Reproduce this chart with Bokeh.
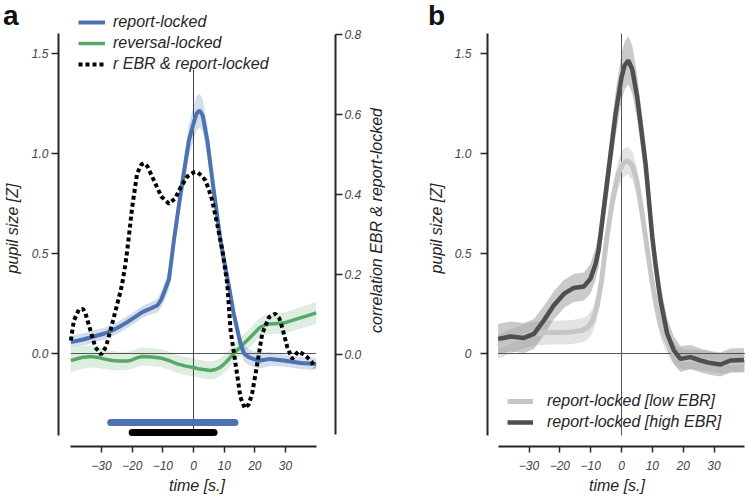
import math
from bokeh.plotting import figure
from bokeh.layouts import row
from bokeh.models import Range1d, LinearAxis, FixedTicker, Legend, LegendItem, Div
from bokeh.embed import file_html
from bokeh.resources import INLINE

# ---------------- data: panel a ----------------
report_t = [-40, -36, -32.5, -29, -26.5, -24, -21.6, -19, -16.7, -14, -11.8, -10.5, -9.5, -8,
            -6.4, -4.2, -1.5, 0, 1, 2, 3, 4.5, 6.6, 8.8, 11.5, 13.1, 15.3, 16.5, 18, 20,
            21.8, 25, 29.4, 34.9, 40]
report_v = [0.057, 0.07, 0.085, 0.10, 0.115, 0.135, 0.157, 0.183, 0.207, 0.225, 0.24, 0.27, 0.31, 0.37,
            0.565, 0.80, 1.065, 1.15, 1.2, 1.215, 1.19, 1.065, 0.815, 0.565, 0.34, 0.2, 0.05, 0.0, -0.018, -0.03,
            -0.035, -0.027, -0.035, -0.048, -0.052]
report_err = [0.03, 0.03, 0.03, 0.03, 0.03, 0.03, 0.03, 0.03, 0.03, 0.03, 0.035, 0.04, 0.045, 0.05,
              0.06, 0.07, 0.08, 0.085, 0.085, 0.085, 0.08, 0.08, 0.07, 0.06, 0.05, 0.045, 0.04, 0.04, 0.04, 0.04,
              0.04, 0.035, 0.03, 0.03, 0.03]

reversal_t = [-40, -36.5, -33.6, -31, -29.2, -26.5, -24.3, -22, -20.5, -18.5, -16.7, -13.5, -10.8, -8,
              -5.3, -2.5, 0, 2, 5.5, 7.2, 8.8, 10.5, 12.1, 15.3, 18.6, 21.8, 23.5, 25.1, 29.4, 33.8, 37, 40]
reversal_v = [-0.035, -0.02, -0.015, -0.02, -0.027, -0.035, -0.038, -0.037, -0.035, -0.022, -0.015, -0.018,
              -0.022, -0.035, -0.052, -0.063, -0.07, -0.078, -0.085, -0.08, -0.068, -0.045, -0.018, 0.032,
              0.082, 0.132, 0.143, 0.148, 0.152, 0.173, 0.188, 0.203]
reversal_err = [0.06, 0.058, 0.055, 0.052, 0.05, 0.048, 0.047, 0.046, 0.045, 0.045, 0.045, 0.045,
                0.045, 0.045, 0.045, 0.045, 0.045, 0.045, 0.045, 0.045, 0.045, 0.045, 0.045, 0.046,
                0.047, 0.048, 0.05, 0.05, 0.052, 0.053, 0.054, 0.055]

corr_t = [-40, -39, -37.4, -36, -35.2, -33.6, -32, -30.1, -28.5, -27.1, -25.4, -24, -23.3, -22.2,
          -21.3, -20, -18.4, -17, -16.2, -15, -12.9, -10.5, -8, -6, -4.2, -2, 0, 1.2, 2.5, 3.9,
          5, 6.1, 7.7, 9.4, 11, 12.1, 13.7, 15.3, 16.7, 18, 19.1, 20.8, 22.4, 24.6, 26.7, 28,
          28.9, 30.6, 32.2, 33.3, 34.3, 35.5, 37.1, 38.5, 39.5]
corr_r = [0.035, 0.085, 0.112, 0.114, 0.102, 0.06, 0.018, 0.0, 0.02, 0.06, 0.11, 0.152, 0.175, 0.225,
          0.28, 0.368, 0.452, 0.475, 0.478, 0.47, 0.435, 0.395, 0.377, 0.39, 0.418, 0.445, 0.455, 0.456,
          0.448, 0.435, 0.412, 0.385, 0.327, 0.26, 0.177, 0.06, -0.023, -0.107, -0.134, -0.125, -0.098,
          -0.023, 0.052, 0.093, 0.102, 0.09, 0.068, 0.018, -0.011, 0.0, 0.008, 0.002, -0.007, -0.018, -0.033]

sig_report = [-27, 13.5]
sig_corr = [-20, 6.7]

# ---------------- data: panel b ----------------
high_t = [-40, -36, -31.7, -28.4, -25.2, -22, -18.7, -15.5, -12.2, -10.1, -8.4, -7.4, -4.6, -1.9,
          0, 1, 2.2, 3.5, 5.1, 7.8, 10, 11, 12.6, 14.8, 17, 19.1, 22.4, 25.6, 28.9, 32.1, 35.4, 39.7]
high_v = [0.073, 0.085, 0.078, 0.098, 0.165, 0.24, 0.298, 0.328, 0.335, 0.373, 0.448, 0.52, 0.865, 1.2,
          1.38, 1.44, 1.465, 1.42, 1.28, 0.95, 0.58, 0.45, 0.27, 0.1, 0.015, -0.027, -0.018, -0.035,
          -0.048, -0.055, -0.035, -0.032]
high_err = [0.075, 0.075, 0.075, 0.075, 0.072, 0.07, 0.07, 0.07, 0.07, 0.075, 0.08, 0.085, 0.1, 0.11,
            0.12, 0.12, 0.12, 0.12, 0.11, 0.1, 0.09, 0.085, 0.08, 0.075, 0.07, 0.065, 0.06, 0.06,
            0.06, 0.06, 0.06, 0.06]

low_t = [-40, -36, -32, -28, -24, -20, -16, -13, -11, -9.5, -8, -6.5, -5, -3, -1, 0.5, 2, 3.5, 5,
         6.5, 8, 9.5, 11, 12.5, 14, 16, 18, 20, 24, 28, 32, 36, 40]
low_v = [0.035, 0.06, 0.085, 0.1, 0.105, 0.105, 0.108, 0.115, 0.13, 0.16, 0.23, 0.36, 0.55, 0.76, 0.9,
         0.95, 0.965, 0.94, 0.86, 0.72, 0.56, 0.4, 0.26, 0.15, 0.08, 0.02, -0.015, -0.03, -0.03, -0.04,
         -0.05, -0.045, -0.045]
low_err = [0.06, 0.06, 0.06, 0.06, 0.06, 0.06, 0.06, 0.06, 0.06, 0.06, 0.062, 0.065, 0.068, 0.07, 0.07,
           0.07, 0.07, 0.07, 0.07, 0.068, 0.065, 0.062, 0.06, 0.058, 0.055, 0.055, 0.05, 0.05, 0.05, 0.05,
           0.05, 0.05, 0.05]

xticks = [-30, -20, -10, 0, 10, 20, 30]
xtick_labels = ["\u221230", "\u221220", "\u221210", "0", "10", "20", "30"]
yticks = [0, 0.5, 1, 1.5]
ytick_labels_a = ["0.0", "0.5", "1.0", "1.5"]
ytick_labels_b = ["0", "0.5", "1.0", "1.5"]
rticks = [0.0, 0.2, 0.4, 0.6, 0.8]
rtick_labels = ["0.0", "0.2", "0.4", "0.6", "0.8"]

FONT = "Liberation Sans"
TXT = "#262626"
BLUE = "#4c72b0"
GREEN = "#55a868"


def style_axis(ax, ticks, labels, bounds, tick_out, label_standoff, axis_standoff):
    ax.ticker = FixedTicker(ticks=ticks)
    ax.major_label_overrides = dict(zip(ticks, labels))
    ax.bounds = bounds
    ax.axis_line_color = TXT
    ax.axis_line_width = 2
    ax.major_tick_line_color = TXT
    ax.major_tick_line_width = 1.5
    ax.major_tick_out = tick_out
    ax.major_tick_in = 0
    ax.minor_tick_line_color = None
    ax.major_label_standoff = label_standoff
    ax.axis_label_standoff = axis_standoff
    ax.major_label_text_font = FONT
    ax.major_label_text_font_style = "italic"
    ax.major_label_text_font_size = "12px"
    ax.major_label_text_color = "#444444"
    ax.axis_label_text_font = FONT
    ax.axis_label_text_font_style = "italic"
    ax.axis_label_text_font_size = "16px"
    ax.axis_label_text_color = TXT


def band(v, e):
    return [a - b for a, b in zip(v, e)], [a + b for a, b in zip(v, e)]


def style_legend(lg, gw, standoff, spacing):
    lg.padding = 0
    lg.margin = 0
    lg.spacing = spacing
    lg.glyph_width = gw
    lg.glyph_height = 20
    lg.label_height = 20
    lg.label_standoff = standoff
    lg.border_line_color = None
    lg.background_fill_alpha = 0
    lg.label_text_font = FONT
    lg.label_text_font_style = "italic"
    lg.label_text_font_size = "16px"
    lg.label_text_color = TXT


def make_fig(width, x_range, mbl, mbr):
    p = figure(width=width, height=498, x_range=x_range, y_range=Range1d(-0.465, 1.715),
               output_backend="svg", toolbar_location=None,
               min_border_left=mbl, min_border_right=mbr, min_border_top=10, min_border_bottom=52)
    p.outline_line_color = None
    p.grid.visible = False
    return p


# ---------------- panel a ----------------
pa = make_fig(391, Range1d(-44.02, 46.3), 58, 56)
pa.extra_y_ranges = {"corr": Range1d(-0.23, 0.86)}
style_axis(pa.xaxis[0], xticks, xtick_labels, (-40, 40), 6, 8, 4)
pa.xaxis[0].axis_label = "time [s.]"
style_axis(pa.yaxis[0], yticks, ytick_labels_a, (-0.41, 1.6), 7, 3, 8)
pa.yaxis[0].axis_label = "pupil size [Z]"
rax = LinearAxis(y_range_name="corr")
style_axis(rax, rticks, rtick_labels, (-0.2, 0.8), 7, 2, 5)
pa.add_layout(rax, "right")

lo, hi = band(report_v, report_err)
pa.varea(x=report_t, y1=lo, y2=hi, fill_color=BLUE, fill_alpha=0.24)
lo, hi = band(reversal_v, reversal_err)
pa.varea(x=reversal_t, y1=lo, y2=hi, fill_color=GREEN, fill_alpha=0.2)
pa.line(x=[-40, 40], y=[0, 0], line_color="#555555", line_width=1)
pa.line(x=[0, 0], y=[-0.41, 1.42], line_color="#444444", line_width=1)
r_rev = pa.line(x=reversal_t, y=reversal_v, line_color=GREEN, line_width=3.5)
r_rep = pa.line(x=report_t, y=report_v, line_color=BLUE, line_width=4)
r_corr = pa.line(x=corr_t, y=corr_r, y_range_name="corr", line_color="black", line_width=4,
                 line_dash="4 3")
pa.line(x=sig_report, y=[-0.345, -0.345], line_color=BLUE, line_width=7, line_cap="round")
pa.line(x=sig_corr, y=[-0.395, -0.395], line_color="black", line_width=7, line_cap="round")

leg_a = Legend(items=[LegendItem(label="report-locked", renderers=[r_rep]),
                      LegendItem(label="reversal-locked", renderers=[r_rev]),
                      LegendItem(label="r EBR & report-locked", renderers=[r_corr])],
               location=(20, 372))
style_legend(leg_a, 27, 8, 1)
pa.add_layout(leg_a)

# ---------------- panel b ----------------
pb = make_fig(358, Range1d(-43.46, 40.54), 96, 3)
style_axis(pb.xaxis[0], xticks, xtick_labels, (-40, 40), 6, 8, 4)
pb.xaxis[0].axis_label = "time [s.]"
style_axis(pb.yaxis[0], yticks, ytick_labels_b, (-0.41, 1.6), 7, 9, 7)
pb.yaxis[0].axis_label = "pupil size [Z]"

lo, hi = band(low_v, low_err)
pb.varea(x=low_t, y1=lo, y2=hi, fill_color="#b0b0b0", fill_alpha=0.35)
lo, hi = band(high_v, high_err)
pb.varea(x=high_t, y1=lo, y2=hi, fill_color="#808080", fill_alpha=0.42)
pb.line(x=[-40, 40], y=[0, 0], line_color="#555555", line_width=1)
pb.line(x=[0, 0], y=[-0.41, 1.6], line_color="#555555", line_width=1)
r_low = pb.line(x=low_t, y=low_v, line_color="#c6c6c6", line_width=5)
r_high = pb.line(x=high_t, y=high_v, line_color="#4f4f4f", line_width=4.5)

leg_b = Legend(items=[LegendItem(label="report-locked [low EBR]", renderers=[r_low]),
                      LegendItem(label="report-locked [high EBR]", renderers=[r_high])],
               location=(20, 14))
style_legend(leg_b, 26, 14, 1)
pb.add_layout(leg_b)

# ---------------- panel letters and the right-axis title ----------------
panel_style = {"position": "absolute", "top": "0px", "font-family": "Liberation Sans",
               "font-weight": "bold", "font-size": "28px", "line-height": "normal",
               "color": "#111111", "margin": "0", "padding": "0"}
div_a = Div(text="a", styles=dict(panel_style, left="3px"))
div_b = Div(text="b", styles=dict(panel_style, left="428px"))
div_r = Div(text="correlation EBR &amp; report-locked",
            styles={"position": "absolute", "left": "369px", "top": "108px",
                    "writing-mode": "vertical-rl", "transform": "rotate(180deg)",
                    "font-family": "Liberation Sans", "font-style": "italic", "font-size": "16px",
                    "line-height": "1", "white-space": "nowrap", "color": TXT,
                    "margin": "0", "padding": "0"})

layout = row(pa, pb, div_a, div_b, div_r)
open("out.html", "w").write(file_html(layout, INLINE))
